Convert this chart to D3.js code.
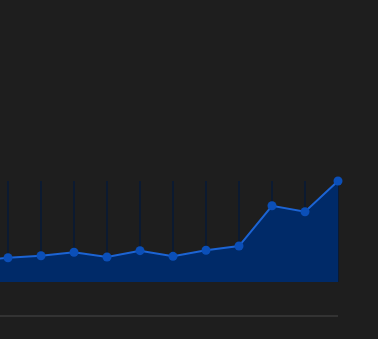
<!DOCTYPE html>
<html>
<head>
<meta charset="utf-8">
<title>Area</title>
<script src="https://cdn.jsdelivr.net/npm/d3@7"></script>
<style>
  html, body { margin: 0; padding: 0; background: #1e1e1e; }
  svg { display: block; }
</style>
</head>
<body>
<svg id="chart" width="378" height="339"></svg>
<script>
// data (first point sits left of the visible area)
var categories = ["p0", "p1", "p2", "p3", "p4", "p5", "p6", "p7", "p8", "p9", "p10", "p11"];
var values = [21, 24, 26, 29.4, 24.8, 31, 25.4, 31.4, 35.6, 75.5, 69.6, 100];

var svg = d3.select("#chart");

var x = d3.scalePoint()
  .domain(categories)
  .range([-25, 338]);

var y = d3.scaleLinear()
  .domain([0, 100])
  .range([282, 181]);

var data = categories.map(function(c, i){ return { c: c, v: values[i] }; });

// vertical grid lines
svg.append("g")
  .selectAll("line")
  .data(categories)
  .enter().append("line")
  .attr("x1", function(d){ return x(d); })
  .attr("x2", function(d){ return x(d); })
  .attr("y1", y(100))
  .attr("y2", y(0))
  .attr("stroke", "#0c1a30")
  .attr("stroke-width", 2);

// area
var area = d3.area()
  .x(function(d){ return x(d.c); })
  .y0(y(0))
  .y1(function(d){ return y(d.v); });

svg.append("path")
  .datum(data)
  .attr("d", area)
  .attr("fill", "#002a68");

// line
var line = d3.line()
  .x(function(d){ return x(d.c); })
  .y(function(d){ return y(d.v); });

svg.append("path")
  .datum(data)
  .attr("d", line)
  .attr("fill", "none")
  .attr("stroke", "#1c64d4")
  .attr("stroke-width", 2);

// points
svg.append("g")
  .selectAll("circle")
  .data(data)
  .enter().append("circle")
  .attr("cx", function(d){ return x(d.c); })
  .attr("cy", function(d){ return y(d.v); })
  .attr("r", 4.5)
  .attr("fill", "#0b4fb8");

// bottom axis line
svg.append("line")
  .attr("x1", 0)
  .attr("x2", 338)
  .attr("y1", 316)
  .attr("y2", 316)
  .attr("stroke", "#333333")
  .attr("stroke-width", 2);
</script>
</body>
</html>
